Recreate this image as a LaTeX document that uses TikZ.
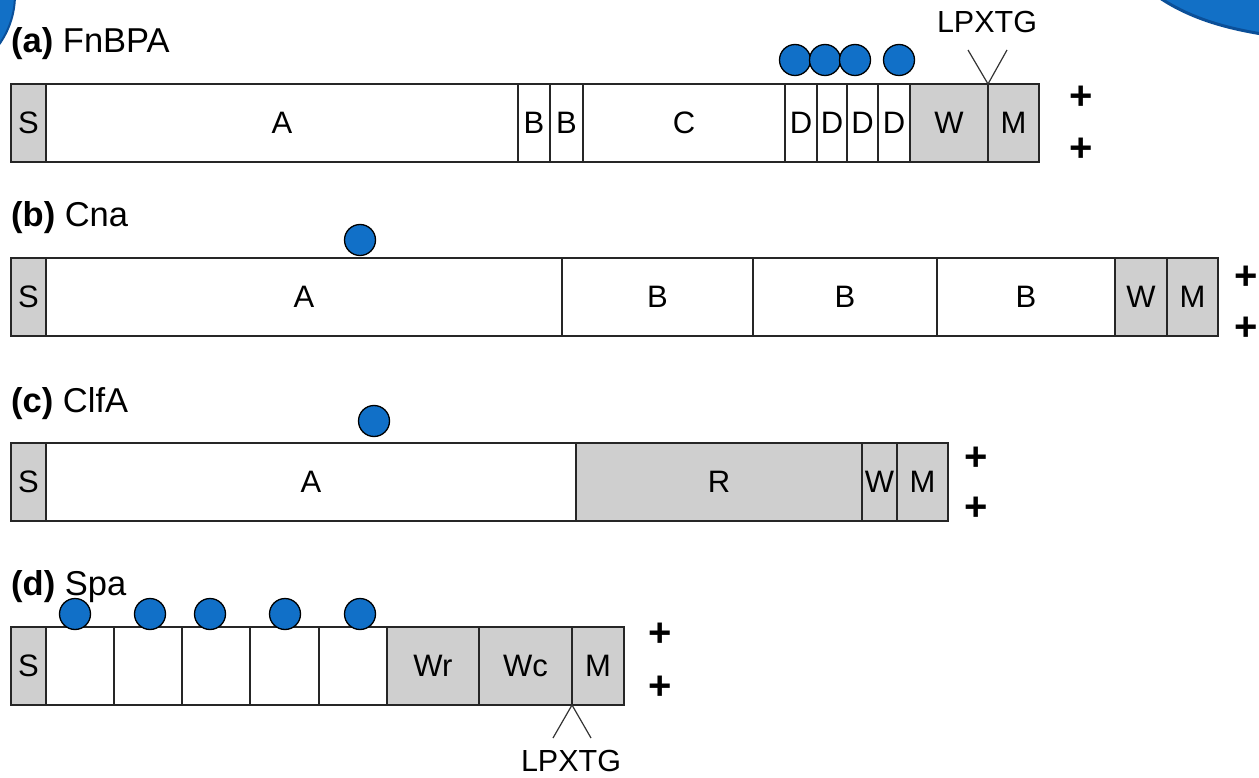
\documentclass[tikz,border=0pt]{standalone}
\usepackage{fontspec}
\setmainfont{Liberation Sans}
\definecolor{dotblue}{HTML}{1170C8}
\definecolor{decoblue}{HTML}{1270C6}
\definecolor{decoedge}{HTML}{0B4F98}
\definecolor{domgray}{HTML}{CFCFCF}
\newcommand\mkseg[6]{\node[seg,fill=#6,minimum width={(#3-#2)*1pt}] (#1) at ({(#2+#3)/2},#4) {#5};}
\begin{document}
\begin{tikzpicture}[x=1pt,y=-1pt,
  seg/.style={draw=black!85, line width=1.4pt, minimum height=78pt, inner sep=0pt, outer sep=0pt,
    font=\fontsize{31}{37}\selectfont},
  dot/.style={circle, fill=dotblue, draw=black, line width=1.3pt, minimum size=31pt, inner sep=0pt},
  title/.style={anchor=base west, inner sep=0pt, font=\fontsize{34.5}{41}\selectfont},
  plus/.style={inner sep=0pt, font=\fontsize{40}{46}\selectfont\bfseries},
  motif/.style={inner sep=0pt, font=\fontsize{30.5}{37}\selectfont},
  vline/.style={draw=black!80, line width=1.2pt}]
\useasboundingbox (0,0) rectangle (1259,778);
\begin{scope}
\clip (0,0) rectangle (1259,778);
\fill[decoblue, draw=decoedge, line width=2pt] (-70,-5) circle[radius=85];
\path[fill=decoblue] (1160,-2) .. controls (1190,18) and (1225,28) .. (1262,34) -- (1262,-2) -- cycle;
\draw[decoedge, line width=3pt] (1160,-2) .. controls (1190,18) and (1225,28) .. (1262,34);
\end{scope}

% (a) FnBPA
\node[title] (ta) at (11,53) {\textbf{(a)} FnBPA};
\mkseg{aS}{11}{46}{123}{S}{domgray}
\mkseg{aA}{46}{518}{123}{A}{white}
\mkseg{aB1}{518}{550}{123}{B}{white}
\mkseg{aB2}{550}{583}{123}{B}{white}
\mkseg{aC}{583}{785}{123}{C}{white}
\mkseg{aD1}{785}{817}{123}{D}{white}
\mkseg{aD2}{817}{847}{123}{D}{white}
\mkseg{aD3}{847}{878}{123}{D}{white}
\mkseg{aD4}{878}{910}{123}{D}{white}
\mkseg{aW}{910}{988}{123}{W}{domgray}
\mkseg{aM}{988}{1039}{123}{M}{domgray}
\node[dot] (ad1) at (795,60) {};
\node[dot] (ad2) at (825,60) {};
\node[dot] (ad3) at (855,60) {};
\node[dot] (ad4) at (899,60) {};
\node[motif] (lpa) at (987,22) {LPXTG};
\coordinate (lpal) at (968,50);
\coordinate (lpar) at (1007,50);
\draw[vline] (lpal) -- (aW.north east) -- (lpar);
\node[plus] (pa1) at (1081,98) {+};
\node[plus] (pa2) at (1081,150) {+};

% (b) Cna
\node[title] (tb) at (11,227) {\textbf{(b)} Cna};
\mkseg{bS}{11}{46}{297}{S}{domgray}
\mkseg{bA}{46}{562}{297}{A}{white}
\mkseg{bB1}{562}{753}{297}{B}{white}
\mkseg{bB2}{753}{937}{297}{B}{white}
\mkseg{bB3}{937}{1115}{297}{B}{white}
\mkseg{bW}{1115}{1167}{297}{W}{domgray}
\mkseg{bM}{1167}{1218}{297}{M}{domgray}
\node[dot] (bd1) at (360,240) {};
\node[plus] (pb1) at (1246,278) {+};
\node[plus] (pb2) at (1246,329) {+};

% (c) ClfA
\node[title] (tc) at (11,412) {\textbf{(c)} ClfA};
\mkseg{cS}{11}{46}{482}{S}{domgray}
\mkseg{cA}{46}{576}{482}{A}{white}
\mkseg{cR}{576}{862}{482}{R}{domgray}
\mkseg{cW}{862}{897}{482}{W}{domgray}
\mkseg{cM}{897}{948}{482}{M}{domgray}
\node[dot] (cd1) at (374,421) {};
\node[plus] (pc1) at (976,459) {+};
\node[plus] (pc2) at (976,509) {+};

% (d) Spa
\node[title] (td) at (11,595) {\textbf{(d)} Spa};
\mkseg{dS}{11}{46}{666}{S}{domgray}
\mkseg{dX1}{46}{114}{666}{}{white}
\mkseg{dX2}{114}{182}{666}{}{white}
\mkseg{dX3}{182}{250}{666}{}{white}
\mkseg{dX4}{250}{319}{666}{}{white}
\mkseg{dX5}{319}{387}{666}{}{white}
\mkseg{dWr}{387}{479}{666}{Wr}{domgray}
\mkseg{dWc}{479}{572}{666}{Wc}{domgray}
\mkseg{dM}{572}{624}{666}{M}{domgray}
\node[dot] (dd1) at (75,614) {};
\node[dot] (dd2) at (150,614) {};
\node[dot] (dd3) at (210,614) {};
\node[dot] (dd4) at (285,614) {};
\node[dot] (dd5) at (360,614) {};
\coordinate (lpdl) at (553,738);
\coordinate (lpdr) at (591,738);
\draw[vline] (lpdl) -- (dWc.south east) -- (lpdr);
\node[motif] (lpd) at (571,761) {LPXTG};
\node[plus] (pd1) at (660,635) {+};
\node[plus] (pd2) at (660,688) {+};
\end{tikzpicture}
\end{document}
